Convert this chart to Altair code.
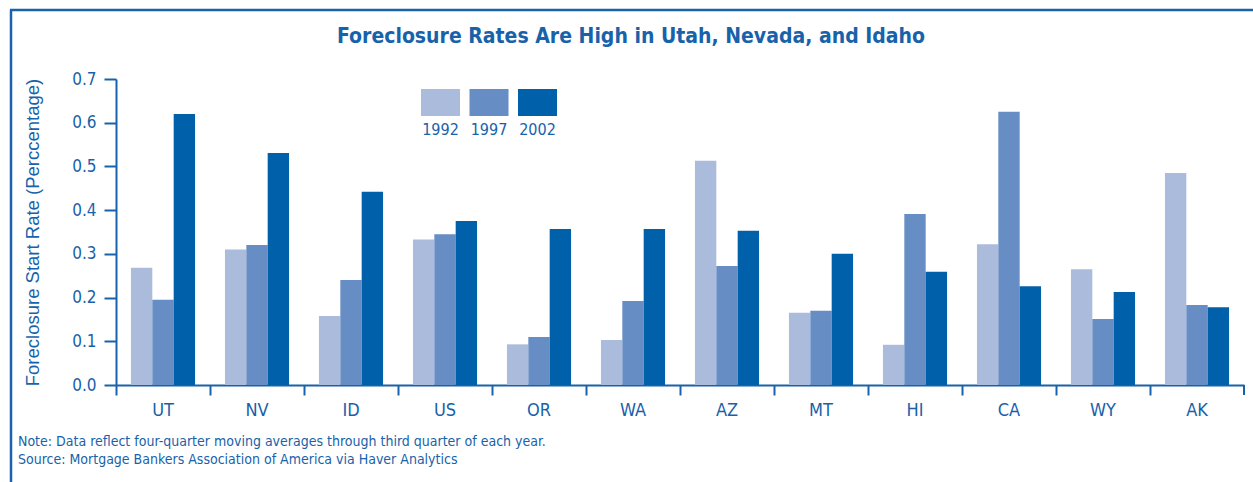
import altair as alt
import pandas as pd

# Foreclosure start rates (percent) by state, three sample years
states = ["UT", "NV", "ID", "US", "OR", "WA", "AZ", "MT", "HI", "CA", "WY", "AK"]
years = ["1992", "1997", "2002"]
rate_1992 = [0.268, 0.310, 0.158, 0.333, 0.093, 0.103, 0.513, 0.165, 0.092, 0.322, 0.265, 0.485]
rate_1997 = [0.195, 0.320, 0.240, 0.345, 0.110, 0.192, 0.272, 0.170, 0.391, 0.625, 0.151, 0.183]
rate_2002 = [0.620, 0.531, 0.442, 0.375, 0.357, 0.357, 0.353, 0.300, 0.259, 0.226, 0.213, 0.178]

title_text = "Foreclosure Rates Are High in Utah, Nevada, and Idaho"
y_title = "Foreclosure Start Rate (Perccentage)"
note_lines = [
    "Note: Data reflect four-quarter moving averages through third quarter of each year.",
    "Source: Mortgage Bankers Association of America via Haver Analytics",
]

BLUE_TEXT = "#1862aa"
COLORS = ["#aabbdc", "#678dc5", "#0060aa"]
FONT = "DejaVu Sans Condensed, sans-serif"

W, H = 1128, 306

rows = []
for yr, vals in zip(years, [rate_1992, rate_1997, rate_2002]):
    for st, v in zip(states, vals):
        rows.append({"state": st, "year": yr, "rate": v})
df = pd.DataFrame(rows)
years_df = pd.DataFrame({"year": years})
notes_df = pd.DataFrame({"line": note_lines, "row": [0, 1]})

color_scale = alt.Scale(domain=years, range=COLORS)

bars = alt.Chart(df).mark_bar().encode(
    x=alt.X(
        "state:N",
        sort=states,
        scale=alt.Scale(paddingInner=0, paddingOuter=0),
        axis=alt.Axis(
            title=None, labelAngle=0, bandPosition=0, tickSize=10, tickWidth=2,
            domainWidth=2, labelPadding=6, labelFontSize=18, labelFont=FONT,
            labelColor=BLUE_TEXT, domainColor=BLUE_TEXT, tickColor=BLUE_TEXT,
            grid=False, labelBaseline="top",
        ),
    ),
    xOffset=alt.XOffset("year:N", sort=years,
                        scale=alt.Scale(paddingInner=0, paddingOuter=0.7)),
    y=alt.Y(
        "rate:Q",
        scale=alt.Scale(domain=[0, 0.7], nice=False),
        axis=alt.Axis(
            title=y_title, values=[0, 0.1, 0.2, 0.3, 0.4, 0.5, 0.6, 0.7],
            format=".1f", tickSize=12, tickWidth=2, domainWidth=2,
            labelPadding=8, labelFontSize=17, labelFont=FONT,
            labelColor=BLUE_TEXT, domainColor=BLUE_TEXT, tickColor=BLUE_TEXT,
            titleFont="Liberation Sans, sans-serif", titleFontSize=18.5,
            titleFontWeight="normal", titleColor=BLUE_TEXT,
            titleX=-84, titleY=153, titleAngle=-90, titleAlign="center",
            titleBaseline="middle", grid=False,
        ),
    ),
    color=alt.Color("year:N", scale=color_scale, legend=None),
)

# closing tick at the right end of the category axis
end_tick = alt.Chart(years_df.head(1)).mark_rule(
    color=BLUE_TEXT, strokeWidth=2
).encode(x=alt.value(W), y=alt.value(H), y2=alt.value(H + 10))

# swatch legend with year labels underneath
legend_scale = alt.Scale(type="point", domain=years, range=[324.5, 421.5], padding=0)
legend_swatches = alt.Chart(years_df).mark_tick(
    orient="horizontal", size=39, thickness=27, opacity=1
).encode(
    x=alt.X("year:N", scale=legend_scale, axis=None),
    y=alt.value(23.5),
    color=alt.Color("year:N", scale=color_scale, legend=None),
)
legend_labels = alt.Chart(years_df).mark_text(
    font=FONT, fontSize=16, color=BLUE_TEXT, baseline="middle"
).encode(
    x=alt.X("year:N", scale=legend_scale, axis=None),
    y=alt.value(51),
    text="year:N",
)

notes = alt.Chart(notes_df).mark_text(
    font=FONT, fontSize=14, color=BLUE_TEXT, align="left", baseline="middle"
).encode(
    x=alt.value(-98),
    y=alt.Y("row:O", scale=alt.Scale(type="point", domain=[0, 1], range=[363, 381], padding=0), axis=None),
    text="line:N",
)

title = alt.Chart(years_df.head(1)).mark_text(
    font=FONT, fontSize=21, fontWeight="bold", color=BLUE_TEXT,
    align="center", baseline="middle",
).encode(x=alt.value(515), y=alt.value(-42), text=alt.value(title_text))

# frame around the figure (left and top edges)
frame_left = alt.Chart(years_df.head(1)).mark_rule(
    color="#1862aa", strokeWidth=2.5
).encode(x=alt.value(-105), y=alt.value(-69), y2=alt.value(410))
frame_top = alt.Chart(years_df.head(1)).mark_rule(
    color="#1862aa", strokeWidth=2.5
).encode(x=alt.value(-106), x2=alt.value(1140), y=alt.value(-69))

chart = alt.layer(
    bars, end_tick, legend_swatches, legend_labels, notes, title, frame_left, frame_top
).resolve_scale(
    x="independent", y="independent"
).properties(
    width=W, height=H,
    autosize=alt.AutoSizeParams(type="none"),
    padding={"left": 116, "top": 79, "right": 9, "bottom": 97},
    background="white",
).configure_view(stroke=None)

chart.save("out.html", embed_options={"renderer": "svg", "actions": False})
